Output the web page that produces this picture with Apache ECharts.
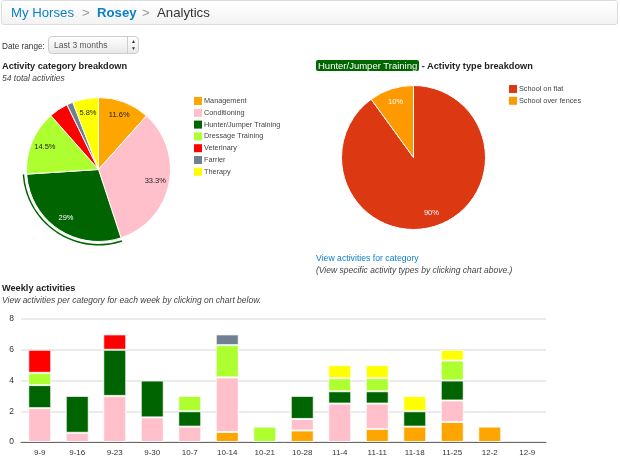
<!DOCTYPE html>
<html>
<head>
<meta charset="utf-8">
<title>Analytics</title>
<script src="https://cdn.jsdelivr.net/npm/echarts@6/dist/echarts.min.js"></script>
<style>
html,body{margin:0;padding:0;background:#fff;overflow:hidden;}
body{font-family:"Liberation Sans",Arial,sans-serif;color:#333;}
#main{position:absolute;left:0;top:0;width:620px;height:458px;}
.t{position:absolute;white-space:nowrap;font-size:8.2px;line-height:12px;}
.b{font-weight:bold;color:#222;font-size:9.2px;}
.i{font-style:italic;color:#444;font-size:8.5px;}
#crumb{position:absolute;left:1px;top:0px;width:615px;height:23px;border:1px solid #ddd;border-radius:3px;box-sizing:content-box;
  background:linear-gradient(#fff,#f3f3f3);}
#crumb span{position:absolute;top:3px;font-size:13.2px;line-height:18px;white-space:nowrap;}
#sel{position:absolute;left:48px;top:36px;width:91px;height:18px;border:1px solid #ccc;border-radius:4px;box-sizing:border-box;
  background:linear-gradient(#fff,#e8e8e8);font-size:8.5px;line-height:16px;color:#555;padding-left:5px;}
#sel i{position:absolute;right:10px;top:0;height:16px;border-left:1px solid #ccc;}
#sel b{position:absolute;right:2px;top:0;font-size:5px;line-height:7px;font-weight:normal;padding-top:1px;text-align:center;color:#333;}
#badge{background:#060;color:#fff;border-radius:2px;padding:0 2px;font-weight:normal;font-size:9.5px;}
</style>
</head>
<body>
<div id="main"></div>
<div id="crumb">
  <span style="left:9px;color:#0b7fc7">My Horses</span>
  <span style="left:80px;color:#999">&gt;</span>
  <span style="left:95px;color:#0b7fc7;font-weight:bold">Rosey</span>
  <span style="left:140px;color:#999">&gt;</span>
  <span style="left:155px;color:#333">Analytics</span>
</div>
<div class="t" style="left:2px;top:41px">Date range:</div>
<div id="sel">Last 3 months<i></i><b>&#9650;<br>&#9660;</b></div>
<div class="t b" style="left:2px;top:60px">Activity category breakdown</div>
<div class="t i" style="left:2px;top:72px">54 total activities</div>
<div class="t b" style="left:316px;top:60px"><span id="badge">Hunter/Jumper Training</span> - Activity type breakdown</div>
<div class="t" style="left:316px;top:252px;color:#0b7fc7;font-size:8.7px">View activities for category</div>
<div class="t i" style="left:316px;top:264px">(View specific activity types by clicking chart above.)</div>
<div class="t b" style="left:2px;top:282px">Weekly activities</div>
<div class="t i" style="left:2px;top:294px">View activities per category for each week by clicking on chart below.</div>
<script>
// pie: activity category
var categories = ['Management', 'Conditioning', 'Hunter/Jumper Training', 'Dressage Training', 'Veterinary', 'Farrier', 'Therapy'];
var categoryColors = ['#ffa500', '#ffc0cb', '#006400', '#adff2f', '#ff0000', '#708090', '#ffff00'];
var categoryShares = [11.6, 33.3, 29, 14.5, 4.3, 1.4, 5.8];
var labelColors = ['#222', '#222', '#fff', '#222', '#222', '#222', '#222'];
var selectedCategory = 'Hunter/Jumper Training';

// pie: activity type
var types = ['School on flat', 'School over fences'];
var typeColors = ['#dc3912', '#ff9900'];
var typeShares = [90, 10];

// weekly stacked bars
var weeks = ['9-9', '9-16', '9-23', '9-30', '10-7', '10-14', '10-21', '10-28', '11-4', '11-11', '11-18', '11-25', '12-2', '12-9'];
var management   = [null, null, null, null, null, 0.65, null, 0.75, null, 0.85, 1, 1.3, 1, null];
var conditioning = [2.2, 0.6, 3, 1.6, 1, 3.55, null, 0.75, 2.5, 1.65, null, 1.4, null, null];
var hunter       = [1.5, 2.4, 3, 2.4, 1, null, null, 1.5, 0.8, 0.8, 1, 1.3, null, null];
var dressage     = [0.8, null, null, null, 1, 2.1, 1, null, 0.85, 0.85, null, 1.3, null, null];
var veterinary   = [1.5, null, 1, null, null, null, null, null, null, null, null, null, null, null];
var farrier      = [null, null, null, null, null, 0.7, null, null, null, null, null, null, null, null];
var therapy      = [null, null, null, null, null, null, null, null, 0.85, 0.85, 1, 0.7, null, null];
var weekly = [management, conditioning, hunter, dressage, veterinary, farrier, therapy];
var yTicks = {min: 0, max: 8, interval: 2};

var chart = echarts.init(document.getElementById('main'));
var fontName = '"Liberation Sans", Arial, sans-serif';

function pieData(names, values, colors) {
    return names.map(function (n, i) {
        return {name: n, value: values[i], itemStyle: {color: colors[i]}};
    });
}

// transparent pie that only carries the labels, ring position puts them near the rim
function labelPie(names, values, center, txtColors) {
    return {
        type: 'pie', center: center, radius: [40, 70], startAngle: 90, silent: true,
        data: names.map(function (n, i) {
            return {
                name: n, value: values[i], itemStyle: {color: 'transparent'},
                label: {
                    show: values[i] > 5,
                    color: txtColors[i]
                }
            };
        }),
        label: {
            position: 'inside', fontSize: 7.5, fontFamily: fontName,
            formatter: function (p) { return p.value + '%'; }
        },
        labelLine: {show: false}
    };
}

var series = [
    {
        type: 'pie', center: [98.5, 169.5], radius: [0, 72], startAngle: 90, silent: true,
        data: pieData(categories, categoryShares, categoryColors),
        itemStyle: {borderColor: '#fff', borderWidth: 1},
        label: {show: false}, labelLine: {show: false}
    },
    {
        // selection ring around the chosen slice
        type: 'pie', center: [98.5, 169.5], radius: [74.5, 76], startAngle: 90, silent: true,
        data: categories.map(function (n, i) {
            return {
                name: n, value: categoryShares[i],
                itemStyle: {color: n == selectedCategory ? categoryColors[i] : 'transparent'}
            };
        }),
        label: {show: false}, labelLine: {show: false}
    },
    labelPie(categories, categoryShares, [98.5, 169.5], labelColors),
    {
        type: 'pie', center: [413.5, 157.5], radius: [0, 72], startAngle: 90, silent: true,
        data: pieData(types, typeShares, typeColors),
        itemStyle: {borderColor: '#fff', borderWidth: 1},
        label: {show: false}, labelLine: {show: false}
    },
    labelPie(types, typeShares, [413.5, 157.5], ['#fff', '#fff'])
];

categories.forEach(function (n, i) {
    series.push({
        name: n, type: 'bar', stack: 'week', barWidth: 23, silent: true,
        data: weekly[i],
        itemStyle: {color: categoryColors[i], borderColor: 'rgba(255,255,255,0.8)', borderWidth: 1}
    });
});

var legendText = {fontSize: 7.3, lineHeight: 8, color: '#444', fontFamily: fontName, padding: [0, 0, 0, -3]};

chart.setOption({
    animation: false,
    legend: [
        {
            data: categories, orient: 'vertical', left: 190, top: 95, padding: [2, 0, 0, 4],
            itemWidth: 8, itemHeight: 8, itemGap: 3.8, itemStyle: {borderWidth: 0},
            icon: 'rect', selectedMode: false, textStyle: legendText
        },
        {
            data: types, orient: 'vertical', left: 505, top: 83, padding: [2, 0, 0, 4],
            itemWidth: 8, itemHeight: 8, itemGap: 3.8, itemStyle: {borderWidth: 0},
            icon: 'rect', selectedMode: false, textStyle: legendText
        }
    ],
    grid: {left: 21, right: 74, top: 319, bottom: 16},
    xAxis: {
        type: 'category', data: weeks,
        axisLine: {lineStyle: {color: '#666', width: 1}},
        axisTick: {show: false},
        axisLabel: {fontSize: 8, color: '#333', margin: 7, interval: 0, fontFamily: fontName}
    },
    yAxis: {
        type: 'value', min: yTicks.min, max: yTicks.max, interval: yTicks.interval,
        axisLine: {show: false}, axisTick: {show: false},
        axisLabel: {fontSize: 8.5, color: '#333', margin: 7, fontFamily: fontName},
        splitLine: {lineStyle: {color: '#e4e4e4', width: 1.5}}
    },
    series: series
});
</script>
</body>
</html>
